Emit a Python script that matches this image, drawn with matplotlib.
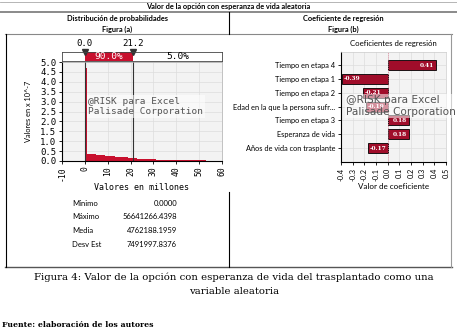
import numpy as np
import matplotlib
matplotlib.use("Agg")
import matplotlib.pyplot as plt
from matplotlib.lines import Line2D

W, H = 457, 332

# histogram (values in millions, density x 10^-7)
spike_left = 0.0
spike_width = 1.0
spike_height = 4.72
bin_left = [1, 3, 5, 7, 9, 11, 13, 15, 17, 19, 21, 23, 25, 27, 29, 31, 33, 35,
            37, 39, 41, 43, 45, 47, 49, 51, 53, 55]
bin_height = [0.36, 0.34, 0.32, 0.29, 0.27, 0.25, 0.22, 0.20, 0.18, 0.16, 0.14,
              0.12, 0.11, 0.10, 0.08, 0.07, 0.07, 0.06, 0.06, 0.05, 0.05, 0.04,
              0.04, 0.03, 0.03, 0.03, 0.02, 0.02]
bin_width = 2.0
mark_lo, mark_hi = 0.0, 21.2
band_mid, band_right = "90.0%", "5.0%"
hist_xticks = [-10, 0, 10, 20, 30, 40, 50, 60]
hist_yticks = [0.0, 0.5, 1.0, 1.5, 2.0, 2.5, 3.0, 3.5, 4.0, 4.5, 5.0]

stat_names = ["Mínimo", "Máximo", "Media", "Desv Est"]
stat_values = ["0.0000", "56641266.4398", "4762188.1959", "7491997.8376"]

# regression coefficients
reg_labels = ["Tiempo en etapa 4", "Tiempo en etapa 1", "Tiempo en etapa 2",
              "Edad en la que la persona sufr...", "Tiempo en etapa 3",
              "Esperanza de vida", "Años de vida con trasplante"]
reg_values = [0.41, -0.39, -0.21, -0.19, 0.18, 0.18, -0.17]
reg_xticks = [-0.4, -0.3, -0.2, -0.1, 0.0, 0.1, 0.2, 0.3, 0.4, 0.5]

RED = "#c8102e"
DARK = "#a00d2a"
narrow = ["Lato", "DejaVu Sans"]
mono = ["DejaVu Sans Mono"]
serif = ["DejaVu Serif"]

fig = plt.figure(figsize=(W / 100, H / 100), dpi=100)


def fx(x):
    return x / W


def fy(y):
    return 1 - y / H


def box(l, t, r, b):
    return [fx(l), fy(b), fx(r) - fx(l), fy(t) - fy(b)]


def hline(y, x0, x1, color="#777777", lw=0.8):
    fig.add_artist(Line2D([fx(x0), fx(x1)], [fy(y), fy(y)], color=color, lw=lw))


def vline(x, y0, y1, color="black", lw=0.8):
    fig.add_artist(Line2D([fx(x), fx(x)], [fy(y0), fy(y1)], color=color, lw=lw))


# ---- table frame and headers
hline(2, 0, 457, "#aaaaaa", 0.6)
hline(11.5, 0, 457, "#777777", 1.2)
hline(34, 5, 452, "#888888", 0.8)
hline(267, 5, 452, "#555555", 1.0)
vline(228.5, 12, 34)
vline(228.5, 192, 267)
vline(6, 34, 267)
vline(451, 34, 267, "#999999", 0.8)

fig.text(fx(228), fy(6.5), "Valor de la opción con esperanza de vida aleatoria",
         ha="center", va="center", fontsize=5.3, weight="bold", family=narrow)
fig.text(fx(117), fy(18.5), "Distribución de probabilidades", ha="center", va="center",
         fontsize=5.3, weight="bold", family=narrow)
fig.text(fx(117), fy(29), "Figura (a)", ha="center", va="center",
         fontsize=5.3, weight="bold", family=narrow)
fig.text(fx(343), fy(18.5), "Coeficiente de regresión", ha="center", va="center",
         fontsize=5.3, weight="bold", family=narrow)
fig.text(fx(343), fy(29), "Figura (b)", ha="center", va="center",
         fontsize=5.3, weight="bold", family=narrow)

# ---- histogram
ax = fig.add_axes(box(62, 62, 222, 161))
ax.set_facecolor("#f3f3f3")
ax.bar([spike_left], [spike_height], width=spike_width, align="edge", color=RED, lw=0)
ax.bar(bin_left, bin_height, width=bin_width, align="edge", color=RED, lw=0)
ax.axvline(mark_lo, color="#333333", lw=0.8)
ax.axvline(mark_hi, color="#333333", lw=0.8)
ax.set_xlim(-10, 60)
ax.set_ylim(0, 5.0)
ax.set_xticks(hist_xticks)
ax.set_xticklabels([str(v) for v in hist_xticks], rotation=90, family=mono, fontsize=5.8)
ax.set_yticks(hist_yticks)
ax.set_yticklabels(["%.1f" % v for v in hist_yticks], family=mono, fontsize=6.5)
ax.tick_params(length=2.5, width=0.6, pad=1.5)
ax.grid(True, color="#dddddd", lw=0.5)
ax.set_axisbelow(True)
for s in ["top", "right"]:
    ax.spines[s].set_color("#aaaaaa")
    ax.spines[s].set_linewidth(0.5)
ax.spines["left"].set_linewidth(0.8)
ax.spines["bottom"].set_linewidth(0.8)
ax.set_xlabel("Valores en millones", family=mono, fontsize=6, labelpad=1)
ax.set_ylabel("Valores en x 10^-7", family=narrow, fontsize=5.3, labelpad=6)
ax.text(0.165, 0.55, "@RISK para Excel\nPalisade Corporation", transform=ax.transAxes,
        family=mono, fontsize=6.8, color="#555555", va="center", linespacing=1.25,
        bbox=dict(facecolor="white", alpha=0.55, edgecolor="none", pad=1))

# band with percentages
bx = fig.add_axes(box(62, 52, 222, 61))
bx.set_xlim(-10, 60)
bx.set_ylim(0, 1)
bx.axvspan(mark_lo, mark_hi, color=RED, lw=0)
bx.set_xticks([])
bx.set_yticks([])
for s in bx.spines.values():
    s.set_linewidth(0.6)
    s.set_color("#444444")
bx.text((mark_lo + mark_hi) / 2, 0.45, band_mid, ha="center", va="center", color="white",
        family=mono, fontsize=6.8)
bx.text((mark_hi + 60) / 2, 0.45, band_right, ha="center", va="center", color="black",
        family=mono, fontsize=6.8)
for m in [mark_lo, mark_hi]:
    bx.plot([m], [1.0], marker="v", color="#333333", ms=4.5, clip_on=False)
    bx.text(m, 1.45, "%.1f" % m, ha="center", va="bottom", family=mono, fontsize=6.5)

# stats
for i, (n, v) in enumerate(zip(stat_names, stat_values)):
    y = 203 + i * 13.8
    fig.text(fx(72), fy(y), n, ha="left", va="center", family=narrow, fontsize=5.5)
    fig.text(fx(177), fy(y), v, ha="right", va="center", family=narrow, fontsize=5.5)

# ---- regression chart
rx = fig.add_axes(box(341, 52, 446, 162))
rx.set_facecolor("#f3f3f3")
pos = np.arange(len(reg_values))
rx.barh(pos, reg_values, height=0.72, color=DARK, edgecolor="black", lw=0.6)
rx.axvline(0, color="#e0708a", lw=0.6, ls=(0, (1, 1.5)))
rx.set_xlim(-0.4, 0.5)
rx.set_ylim(len(reg_values), -0.94)
rx.set_yticks(pos)
rx.set_yticklabels(reg_labels, family=narrow, fontsize=5.3)
rx.set_xticks(reg_xticks)
rx.set_xticklabels(["%.1f" % v for v in reg_xticks], rotation=90, family=narrow, fontsize=5.3)
rx.tick_params(length=2.5, width=0.6, pad=1.5)
rx.grid(True, color="#dddddd", lw=0.5)
rx.set_axisbelow(True)
for s in ["top", "right"]:
    rx.spines[s].set_color("#cccccc")
    rx.spines[s].set_linewidth(0.5)
for p, v in zip(pos, reg_values):
    if v >= 0:
        rx.text(v - 0.015, p, "%.2f" % v, ha="right", va="center", color="white",
                fontsize=4.2, family=serif, weight="bold")
    else:
        rx.text(v + 0.015, p, "%.2f" % v, ha="left", va="center", color="white",
                fontsize=4.2, family=serif, weight="bold")
rx.set_title("Coeficientes de regresión", family=narrow, fontsize=5.6, pad=4)
rx.set_xlabel("Valor de coeficiente", family=narrow, fontsize=5.8, labelpad=2)
fig.text(fx(346), fy(106), "@RISK para Excel\nPalisade Corporation", ha="left", va="center",
         family=["DejaVu Sans"], fontsize=7.6, color="#555555", linespacing=1.25,
         bbox=dict(facecolor="white", alpha=0.55, edgecolor="none", pad=0.5))

# ---- caption
fig.text(fx(234), fy(277), "Figura 4: Valor de la opción con esperanza de vida del trasplantado como una",
         ha="center", va="center", family=serif, fontsize=7.3)
fig.text(fx(234), fy(292), "variable aleatoria", ha="center", va="center", family=serif, fontsize=7.3)
fig.text(fx(2), fy(325), "Fuente: elaboración de los autores", ha="left", va="center",
         family=serif, fontsize=5.6, weight="bold")

fig.savefig("out.png", dpi=100)
